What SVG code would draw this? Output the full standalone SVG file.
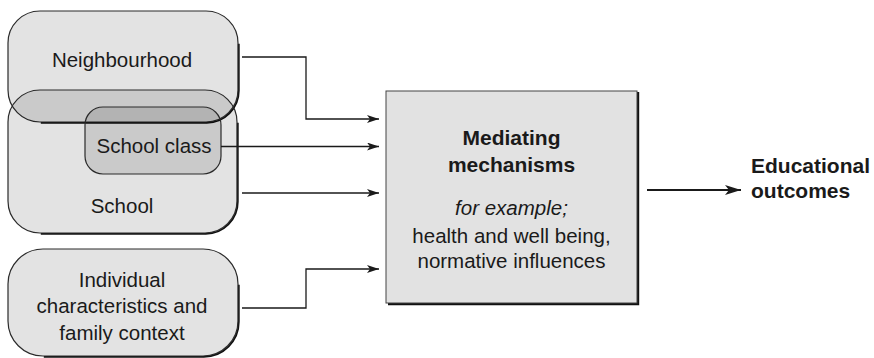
<svg xmlns="http://www.w3.org/2000/svg" width="874" height="358" viewBox="0 0 874 358">
<defs>
<style>
.fill{fill:#000;fill-opacity:0.11;stroke:none}
.edge{fill:none;stroke:#2a2a2a;stroke-width:1.2}
.shadow{fill:none;stroke:#111;stroke-width:1.8}
.t{font-family:"Liberation Sans",Arial,sans-serif;font-size:20.5px;fill:#1a1a1a;text-anchor:middle}
.b{font-family:"Liberation Sans",Arial,sans-serif;font-size:21px;font-weight:bold;fill:#1a1a1a}
.c{fill:none;stroke:#1a1a1a;stroke-width:1.3}
</style>
<marker id="ah" viewBox="0 0 12 8" refX="12" refY="4" markerWidth="12" markerHeight="8" markerUnits="userSpaceOnUse" orient="auto">
<path d="M0,0 L12,4 L0,8 L3,4 Z" fill="#1a1a1a"/>
</marker>
<marker id="ahb" viewBox="0 0 16 10" refX="16" refY="5" markerWidth="16" markerHeight="10" markerUnits="userSpaceOnUse" orient="auto">
<path d="M0,0 L16,5 L0,10 L4,5 Z" fill="#1a1a1a"/>
</marker>
</defs>
<rect width="874" height="358" fill="#fff"/>

<g id="neighbourhood">
<path class="shadow" transform="translate(0.8,0.8)" d="M238,43 L238,90 A32,32 0 0 1 206,122 L40,122"/>
<rect class="fill" x="8" y="11" width="230" height="111" rx="32"/>
<rect class="edge" x="8" y="11" width="230" height="111" rx="32"/>
<text class="t" x="122" y="67">Neighbourhood</text>
</g>

<g id="school">
<path class="shadow" transform="translate(0.8,0.8)" d="M237,122 L237,201 A32,32 0 0 1 205,233 L40,233"/>
<rect class="fill" x="8" y="90" width="229" height="143" rx="32"/>
<rect class="edge" x="8" y="90" width="229" height="143" rx="32"/>
<text class="t" x="122" y="213">School</text>
</g>

<g id="school-class">
<rect class="fill" x="85" y="107" width="136" height="67" rx="18"/>
<rect class="edge" x="85" y="107" width="136" height="67" rx="18"/>
<text class="t" x="154" y="153">School class</text>
</g>

<g id="individual">
<path class="shadow" transform="translate(0.8,0.8)" d="M238,284 L238,321 A35,35 0 0 1 203,356 L43,356"/>
<rect class="fill" x="8" y="249" width="230" height="107" rx="35"/>
<rect class="edge" x="8" y="249" width="230" height="107" rx="35"/>
<text class="t" x="122" y="287">Individual</text>
<text class="t" x="122" y="313">characteristics and</text>
<text class="t" x="122" y="340">family context</text>
</g>

<g id="mediating">
<path fill="none" stroke="#111" stroke-width="2.4" d="M638,92 L638,304 L388,304"/>
<rect x="386" y="91" width="251" height="212" fill="#e2e2e2" stroke="#444" stroke-width="1"/>
<text class="b" x="511.5" y="145" text-anchor="middle">Mediating</text>
<text class="b" x="511.5" y="172" text-anchor="middle">mechanisms</text>
<text class="t" x="511.5" y="215" font-style="italic">for example;</text>
<text class="t" x="511.5" y="243">health and well being,</text>
<text class="t" x="511.5" y="268">normative influences</text>
</g>

<g id="outcomes">
<text class="b" x="751" y="173">Educational</text>
<text class="b" x="751" y="198">outcomes</text>
</g>

<g id="connectors">
<path class="c" d="M242,57 L306,57 L306,119 L379,119" marker-end="url(#ah)"/>
<path class="c" d="M221,146.5 L379,146.5" marker-end="url(#ah)"/>
<path class="c" d="M242,193 L379,193" marker-end="url(#ah)"/>
<path class="c" d="M242,308 L306,308 L306,269 L379,269" marker-end="url(#ah)"/>
<path fill="none" stroke="#1a1a1a" stroke-width="2.2" d="M647,190 L741,190" marker-end="url(#ahb)"/>
</g>
</svg>
